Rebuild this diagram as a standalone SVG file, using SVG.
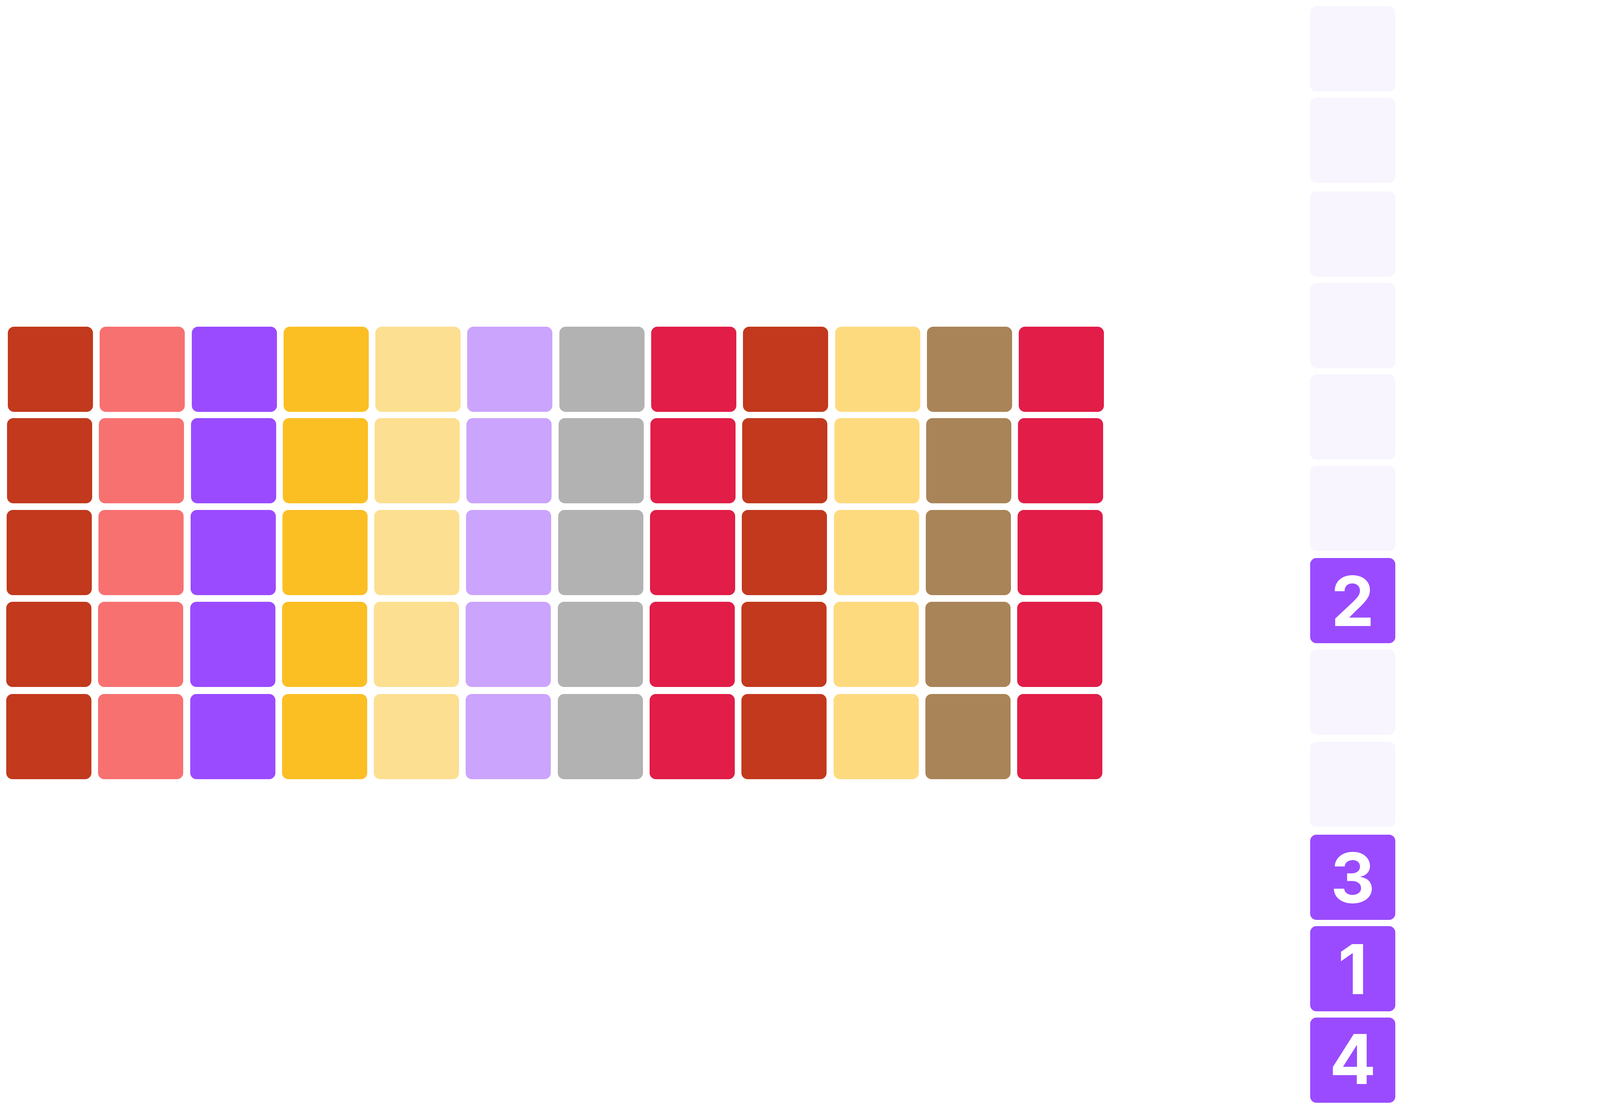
<svg xmlns="http://www.w3.org/2000/svg" width="6290" height="2838" viewBox="0 0 6290 2838">
  <style>
    rect { rx: 16px; ry: 16px; }
    .c0 { fill: #C2391D; }
    .c1 { fill: #F87171; }
    .c2 { fill: #9A4BFF; }
    .c3 { fill: #FBBF24; }
    .c4 { fill: #FCDF90; }
    .c5 { fill: #CBA4FD; }
    .c6 { fill: #B2B2B2; }
    .c7 { fill: #E11D48; }
    .c9 { fill: #FEDA7F; }
    .c10 { fill: #A98458; }
    .lt { fill: #F8F5FF; }
    .num { fill: #FFFFFF; font-family: Inter, "Liberation Sans", sans-serif; font-weight: 700; font-size: 176px; text-anchor: middle; }
  </style>
  <rect x="0" y="0" width="6290" height="2838" fill="#FFFFFF" style="rx:0;ry:0"/>

  <g id="grid-left">
    <g id="grid-row-1" transform="translate(0,836)">
      <rect class="c0" x="20" y="0" width="218" height="218"/>
      <rect class="c1" x="255" y="0" width="218" height="218"/>
      <rect class="c2" x="491" y="0" width="218" height="218"/>
      <rect class="c3" x="726" y="0" width="218" height="218"/>
      <rect class="c4" x="961" y="0" width="218" height="218"/>
      <rect class="c5" x="1196" y="0" width="218" height="218"/>
      <rect class="c6" x="1432" y="0" width="218" height="218"/>
      <rect class="c7" x="1667" y="0" width="218" height="218"/>
      <rect class="c0" x="1902" y="0" width="218" height="218"/>
      <rect class="c9" x="2138" y="0" width="218" height="218"/>
      <rect class="c10" x="2373" y="0" width="218" height="218"/>
      <rect class="c7" x="2608" y="0" width="218" height="218"/>
    </g>
    <g id="grid-row-2" transform="translate(-2,1070)">
      <rect class="c0" x="20" y="0" width="218" height="218"/>
      <rect class="c1" x="255" y="0" width="218" height="218"/>
      <rect class="c2" x="491" y="0" width="218" height="218"/>
      <rect class="c3" x="726" y="0" width="218" height="218"/>
      <rect class="c4" x="961" y="0" width="218" height="218"/>
      <rect class="c5" x="1196" y="0" width="218" height="218"/>
      <rect class="c6" x="1432" y="0" width="218" height="218"/>
      <rect class="c7" x="1667" y="0" width="218" height="218"/>
      <rect class="c0" x="1902" y="0" width="218" height="218"/>
      <rect class="c9" x="2138" y="0" width="218" height="218"/>
      <rect class="c10" x="2373" y="0" width="218" height="218"/>
      <rect class="c7" x="2608" y="0" width="218" height="218"/>
    </g>
    <g id="grid-row-3" transform="translate(-3,1305)">
      <rect class="c0" x="20" y="0" width="218" height="218"/>
      <rect class="c1" x="255" y="0" width="218" height="218"/>
      <rect class="c2" x="491" y="0" width="218" height="218"/>
      <rect class="c3" x="726" y="0" width="218" height="218"/>
      <rect class="c4" x="961" y="0" width="218" height="218"/>
      <rect class="c5" x="1196" y="0" width="218" height="218"/>
      <rect class="c6" x="1432" y="0" width="218" height="218"/>
      <rect class="c7" x="1667" y="0" width="218" height="218"/>
      <rect class="c0" x="1902" y="0" width="218" height="218"/>
      <rect class="c9" x="2138" y="0" width="218" height="218"/>
      <rect class="c10" x="2373" y="0" width="218" height="218"/>
      <rect class="c7" x="2608" y="0" width="218" height="218"/>
    </g>
    <g id="grid-row-4" transform="translate(-4,1540)">
      <rect class="c0" x="20" y="0" width="218" height="218"/>
      <rect class="c1" x="255" y="0" width="218" height="218"/>
      <rect class="c2" x="491" y="0" width="218" height="218"/>
      <rect class="c3" x="726" y="0" width="218" height="218"/>
      <rect class="c4" x="961" y="0" width="218" height="218"/>
      <rect class="c5" x="1196" y="0" width="218" height="218"/>
      <rect class="c6" x="1432" y="0" width="218" height="218"/>
      <rect class="c7" x="1667" y="0" width="218" height="218"/>
      <rect class="c0" x="1902" y="0" width="218" height="218"/>
      <rect class="c9" x="2138" y="0" width="218" height="218"/>
      <rect class="c10" x="2373" y="0" width="218" height="218"/>
      <rect class="c7" x="2608" y="0" width="218" height="218"/>
    </g>
    <g id="grid-row-5" transform="translate(-4,1776)">
      <rect class="c0" x="20" y="0" width="218" height="218"/>
      <rect class="c1" x="255" y="0" width="218" height="218"/>
      <rect class="c2" x="491" y="0" width="218" height="218"/>
      <rect class="c3" x="726" y="0" width="218" height="218"/>
      <rect class="c4" x="961" y="0" width="218" height="218"/>
      <rect class="c5" x="1196" y="0" width="218" height="218"/>
      <rect class="c6" x="1432" y="0" width="218" height="218"/>
      <rect class="c7" x="1667" y="0" width="218" height="218"/>
      <rect class="c0" x="1902" y="0" width="218" height="218"/>
      <rect class="c9" x="2138" y="0" width="218" height="218"/>
      <rect class="c10" x="2373" y="0" width="218" height="218"/>
      <rect class="c7" x="2608" y="0" width="218" height="218"/>
    </g>
  </g>

  <g id="slot-column">
    <g id="slot-1"><rect class="lt" x="3354" y="16" width="218" height="218"/></g>
    <g id="slot-2"><rect class="lt" x="3354" y="250" width="218" height="218"/></g>
    <g id="slot-3"><rect class="lt" x="3354" y="490" width="218" height="218"/></g>
    <g id="slot-4"><rect class="lt" x="3354" y="724" width="218" height="218"/></g>
    <g id="slot-5"><rect class="lt" x="3354" y="958" width="218" height="218"/></g>
    <g id="slot-6"><rect class="lt" x="3354" y="1192" width="218" height="218"/></g>
    <g id="slot-7">
      <rect class="c2" x="3354" y="1428" width="218" height="218"/>
      <text class="num" x="3463" y="1602">2</text>
    </g>
    <g id="slot-8"><rect class="lt" x="3354" y="1662" width="218" height="218"/></g>
    <g id="slot-9"><rect class="lt" x="3354" y="1898" width="218" height="218"/></g>
    <g id="slot-10">
      <rect class="c2" x="3354" y="2136" width="218" height="218"/>
      <text class="num" x="3463" y="2310">3</text>
    </g>
    <g id="slot-11">
      <rect class="c2" x="3354" y="2370" width="218" height="218"/>
      <text class="num" x="3463" y="2544">1</text>
    </g>
    <g id="slot-12">
      <rect class="c2" x="3354" y="2604" width="218" height="218"/>
      <text class="num" x="3463" y="2774">4</text>
    </g>
  </g>

  <g id="stack-gray">
    <rect class="c6" x="4160" y="850" width="218" height="218"/>
    <rect class="c6" x="4158" y="1085" width="218" height="218"/>
    <rect class="c6" x="4158" y="1320" width="218" height="218"/>
    <rect class="c6" x="4157" y="1555" width="218" height="218"/>
    <rect class="c6" x="4157" y="1790" width="218" height="218"/>
  </g>
  <g id="stack-yellow">
    <rect class="c9" x="4792" y="850" width="218" height="218"/>
    <rect class="c9" x="4790" y="1085" width="218" height="218"/>
    <rect class="c9" x="4790" y="1320" width="218" height="218"/>
    <rect class="c9" x="4789" y="1555" width="218" height="218"/>
    <rect class="c9" x="4789" y="1790" width="218" height="218"/>
  </g>
  <g id="stack-brown">
    <rect class="c10" x="5424" y="856" width="218" height="218"/>
    <rect class="c10" x="5422" y="1091" width="218" height="218"/>
    <rect class="c10" x="5422" y="1326" width="218" height="218"/>
    <rect class="c10" x="5421" y="1561" width="218" height="218"/>
    <rect class="c10" x="5421" y="1796" width="218" height="218"/>
  </g>
  <g id="stack-red">
    <rect class="c7" x="6054" y="850" width="218" height="218"/>
    <rect class="c7" x="6052" y="1085" width="218" height="218"/>
    <rect class="c7" x="6052" y="1320" width="218" height="218"/>
    <rect class="c7" x="6052" y="1555" width="218" height="218"/>
    <rect class="c7" x="6052" y="1790" width="218" height="218"/>
  </g>
  <g id="connectors"></g>
</svg>
